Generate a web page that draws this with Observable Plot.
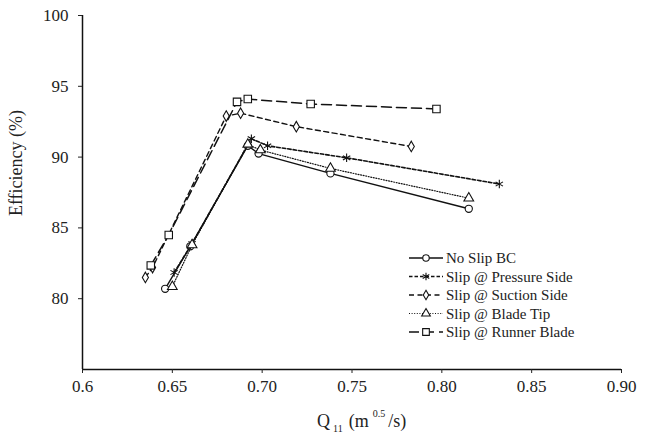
<!DOCTYPE html>
<html><head><meta charset="utf-8">
<script src="https://cdn.jsdelivr.net/npm/d3@7"></script>
<script src="https://cdn.jsdelivr.net/npm/@observablehq/plot@0.6"></script>
<style>
body{margin:0;background:#fff;}
#wrap{position:relative;width:651px;height:443px;font-family:"Liberation Serif","Times New Roman",serif;}
#wrap svg text{font-family:"Liberation Serif","Times New Roman",serif;}
#legend{position:absolute;left:405px;top:246px;}
</style></head>
<body><div id="wrap"></div>
<script>
// ---- data ----
const seriesNames = ["No Slip BC","Slip @ Pressure Side","Slip @ Suction Side","Slip @ Blade Tip","Slip @ Runner Blade"];
const q_noSlip   = [0.646, 0.660, 0.692, 0.698, 0.738, 0.815];
const eff_noSlip = [80.7, 83.7, 90.8, 90.25, 88.85, 86.35];
const q_pressure   = [0.651, 0.661, 0.694, 0.703, 0.747, 0.832];
const eff_pressure = [81.85, 83.9, 91.3, 90.8, 89.95, 88.1];
const q_suction   = [0.635, 0.639, 0.680, 0.688, 0.719, 0.783];
const eff_suction = [81.5, 82.2, 92.9, 93.1, 92.15, 90.75];
const q_tip   = [0.650, 0.661, 0.692, 0.699, 0.738, 0.815];
const eff_tip = [80.85, 83.8, 90.9, 90.5, 89.2, 87.1];
const q_runner   = [0.638, 0.648, 0.686, 0.692, 0.727, 0.797];
const eff_runner = [82.35, 84.5, 93.9, 94.1, 93.75, 93.4];
const xTicks = [0.6, 0.65, 0.70, 0.75, 0.80, 0.85, 0.90];
const xTickLabels = ["0.6","0.65","0.70","0.75","0.80","0.85","0.90"];
const yTicks = [80, 85, 90, 95, 100];

// ---- styles ----
const styles = [
  {symbol:"circle",   dash:null,     w:1.4, r:3.6},
  {symbol:"asterisk", dash:"3.5,2",  w:1.6, r:4},
  {symbol:"diamond",  dash:"5,3.5",  w:1.4, r:3.2},
  {symbol:"triangle", dash:"1,1.6",  w:1.2, r:3.6},
  {symbol:"square",   dash:"10,5",   w:1.5, r:4.2}
];
const qs = [q_noSlip, q_pressure, q_suction, q_tip, q_runner];
const es = [eff_noSlip, eff_pressure, eff_suction, eff_tip, eff_runner];
const series = seriesNames.map((name,i)=>qs[i].map((q,j)=>({name, q, eff: es[i][j]})));

const marks = [
  Plot.ruleY([75], {x1:0.6, x2:0.9, stroke:"#111", strokeWidth:1.5}),
  Plot.ruleX([0.6], {y1:75, y2:100, stroke:"#111", strokeWidth:1.5}),
  Plot.axisY({ticks: yTicks, tickSize: 4, tickPadding: 10, fontSize: 17, label: null, tickFormat: d=>String(d)}),
  Plot.axisX({ticks: xTicks, tickSize: 4, tickPadding: 6, fontSize: 17, label: null,
              tickFormat: d=>xTickLabels[xTicks.findIndex(t=>Math.abs(t-d)<1e-9)]})
];
series.forEach((data,i)=>{
  const s = styles[i];
  marks.push(Plot.line(data, {x:"q", y:"eff", stroke:"#111", strokeWidth:s.w, strokeDasharray:s.dash}));
  marks.push(Plot.dot(data, {x:"q", y:"eff", symbol:()=>s.symbol, r:s.r, stroke:"#111", strokeWidth:1.1, fill:"white"}));
});

const chart = Plot.plot({
  width: 651, height: 443,
  marginLeft: 82, marginRight: 30, marginTop: 15, marginBottom: 74,
  style: {fontFamily: '"Liberation Serif","Times New Roman",serif', color:"#222", background:"white"},
  x: {domain:[0.6,0.9]},
  y: {domain:[75,100]},
  symbol: {type:"identity"},
  marks
});
const wrap = document.getElementById("wrap");
wrap.appendChild(chart);

// axis titles
const svg = d3.select(chart);
svg.append("text")
  .attr("transform","translate(22,163) rotate(-90)")
  .attr("text-anchor","middle").attr("font-size",18).attr("fill","#222")
  .text("Efficiency (%)");
const xt = svg.append("text").attr("x",317).attr("y",427).attr("text-anchor","start").attr("font-size",18).attr("fill","#222");
xt.append("tspan").text("Q");
xt.append("tspan").attr("dy",5).attr("dx",3).attr("font-size",10).text("11");
xt.append("tspan").attr("dy",-5).attr("dx",6).text("(m");
xt.append("tspan").attr("dy",-10).attr("dx",4).attr("font-size",10).text("0.5");
xt.append("tspan").attr("dy",10).attr("dx",3).text("/s)");

// legend
const leg = d3.select(wrap).append("svg").attr("id","legend").attr("width",200).attr("height",100);
seriesNames.forEach((name,i)=>{
  const s = styles[i];
  const y = 12 + i*18.5;
  const g = leg.append("g");
  g.append("line").attr("x1",4).attr("x2",38).attr("y1",y).attr("y2",y)
    .attr("stroke","#111").attr("stroke-width",s.w).attr("stroke-dasharray",s.dash);
  const sym = {circle:d3.symbolCircle, asterisk:d3.symbolAsterisk, diamond:d3.symbolDiamond, triangle:d3.symbolTriangle, square:d3.symbolSquare}[s.symbol];
  g.append("path").attr("transform",`translate(21,${y})`).attr("d",d3.symbol(sym, Math.PI*s.r*s.r*0.8)())
    .attr("stroke","#111").attr("stroke-width",1.1).attr("fill","white");
  g.append("text").attr("x",41).attr("y",y+5).attr("font-size",15).attr("fill","#222").text(name);
});
</script>
</body></html>
